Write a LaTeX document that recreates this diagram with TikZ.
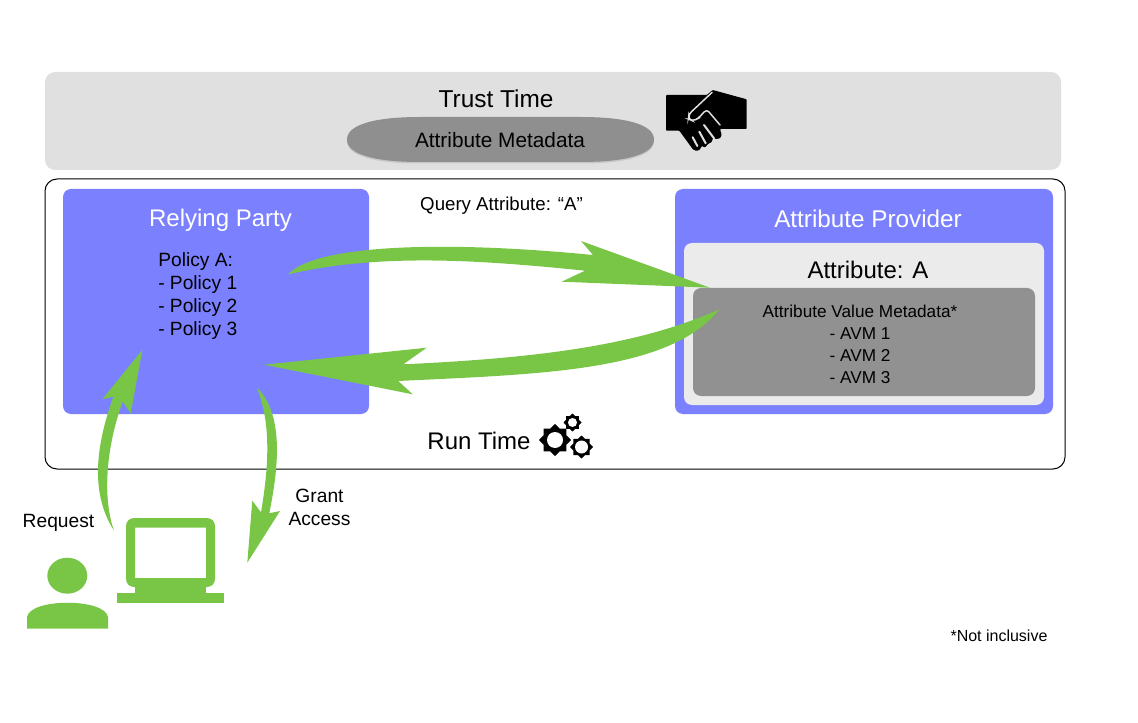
\documentclass[tikz,border=0pt]{standalone}
\usepackage{fontspec}
\setmainfont{Liberation Sans}
\usetikzlibrary{shapes.geometric}
\definecolor{trustgrey}{HTML}{E0E0E0}
\definecolor{pillgrey}{HTML}{8F8F8F}
\definecolor{pillshade}{HTML}{C8C8C8}
\definecolor{partyblue}{HTML}{7B80FF}
\definecolor{attrgrey}{HTML}{EBEBEB}
\definecolor{avmgrey}{HTML}{919191}
\definecolor{flowgreen}{HTML}{79C646}
\tikzset{
panel/.style n args={2}{rectangle,inner sep=0pt,outer sep=0pt,minimum width=#1*0.75pt,minimum height=#2*0.75pt},
bigtext/.style={font=\fontsize{18}{22}\selectfont},
medtext/.style={font=\fontsize{14.4}{17.25}\selectfont},
smalltext/.style={font=\fontsize{12}{16.5}\selectfont},
cog/.style={star,star points=8,star point ratio=1.3,fill=black,inner sep=0pt,minimum size=#1*0.75pt},
coghole/.style={circle,fill=white,inner sep=0pt,minimum size=#1*0.75pt}
}
\begin{document}
\begin{tikzpicture}[x=0.75pt,y=-0.75pt]
\useasboundingbox (0,0) rectangle (1138,723);
\node (trust) at (553,121) [panel={1016}{98},fill=trustgrey,rounded corners=7.5pt] {};
\node (runtime) at (555,324) [panel={1020}{290},draw=black,line width=0.75pt,rounded corners=9pt] {};
\node (relying) at (216,301.5) [panel={306}{225},fill=partyblue,rounded corners=6pt] {};
\node (provider) at (864,301.5) [panel={378}{225},fill=partyblue,rounded corners=6pt] {};
\node (attribute) at (864,324) [panel={360}{162},fill=attrgrey,rounded corners=6pt] {};
\node (avm) at (864,342) [panel={342}{108},fill=avmgrey,rounded corners=6pt] {};
\fill [pillshade] (347,141) .. controls (347,126) and (375,118.5) .. (420,118.5) -- (581,118.5) .. controls (626,118.5) and (654,126) .. (654,141) .. controls (654,156) and (626,163.5) .. (581,163.5) -- (420,163.5) .. controls (375,163.5) and (347,156) .. (347,141) -- cycle;
\fill [pillgrey] (347,139.5) .. controls (347,124.5) and (375,117) .. (420,117) -- (581,117) .. controls (626,117) and (654,124.5) .. (654,139.5) .. controls (654,154.5) and (626,162) .. (581,162) -- (420,162) .. controls (375,162) and (347,154.5) .. (347,139.5) -- cycle;

\node (trustlabel) at (496,98.5) [font=\fontsize{18.3}{22}\selectfont] {Trust Time};
\node (metalabel) at (500,140) [font=\fontsize{15.6}{19}\selectfont] {Attribute Metadata};
\node (rplabel) at (220.5,220) [bigtext,text=white] {Relying Party};
\node (aplabel) at (868,219) [font=\fontsize{18.2}{22}\selectfont,text=white] {Attribute Provider};
\node (attrlabel) at (868,270) [bigtext] {Attribute: A};
\node (policies) at (158,296.5) [medtext,anchor=west,inner sep=0pt,align=left] {Policy A:\\- Policy 1\\- Policy 2\\- Policy 3};
\node (avmlist) at (860,344) [font=\fontsize{12.9}{16.5}\selectfont,align=center] {Attribute Value Metadata*\\- AVM 1\\- AVM 2\\- AVM 3};
\node (query) at (501.5,206) [font=\fontsize{14}{17}\selectfont] {Query Attribute: “A”};
\node (runlabel) at (479,441) [bigtext] {Run Time};
\node (request) at (58.5,523) [medtext] {Request};
\node (grant) at (319.5,507) [medtext,align=center] {Grant\\Access};
\node (note) at (999,636) [smalltext] {*Not inclusive};

\node (cogbig) at (555,440) [cog=32] {};
\node (cogtop) at (572.5,422.5) [cog=18] {};
\node (cogright) at (581.5,447) [cog=23] {};
\node (holebig) at (555,440) [coghole=16] {};
\node (holetop) at (572.5,422.5) [coghole=9] {};
\node (holeright) at (581.5,447) [coghole=13] {};

\coordinate (querytail) at (288.3,274.3);
\coordinate (querytip) at (710,287.7);
\coordinate (valuetail) at (719.3,309.3);
\coordinate (valuetip) at (264,364.7);
\coordinate (requesttail) at (114,530.7);
\coordinate (requesttip) at (142.3,350);
\coordinate (granttail) at (256.7,387.3);
\coordinate (granttip) at (247.3,562.7);

\fill [flowgreen] (querytail) .. controls (315,245) and (440,240) .. (593,255) -- (581,241) -- (querytip) -- (561.7,281.7) -- (585,270.7) .. controls (480,260) and (380,253) .. (querytail) -- cycle;
\fill [flowgreen] (valuetail) .. controls (640,345) and (540,358) .. (403.3,364.3) -- (426.7,347.7) -- (valuetip) -- (412.7,394.3) -- (398.3,381) .. controls (540,374) and (670,372) .. (valuetail) -- cycle;
\fill [flowgreen] (requesttail) .. controls (88,490) and (98,440) .. (113.3,396.7) -- (102.3,399.3) -- (requesttip) -- (130.7,413.3) -- (122.7,401.7) .. controls (105,450) and (103,500) .. (requesttail) -- cycle;
\fill [flowgreen] (granttail) .. controls (285,415) and (278,470) .. (269.3,513.3) -- (280,511) -- (granttip) -- (252.3,500.7) -- (261,512.3) .. controls (270,460) and (270,420) .. (granttail) -- cycle;

\fill [flowgreen] (67.3,575.7) ellipse [x radius=20,y radius=18];
\fill [flowgreen] (27,628.7) -- (27,617) .. controls (30,598) and (105,598) .. (108,617) -- (108,628.7) -- cycle;
\fill [flowgreen,even odd rule,rounded corners=6pt] (126,518) rectangle (215,587) (135,527.7) [sharp corners] rectangle (206,578);
\fill [flowgreen] (135,585) rectangle (206,594);
\fill [flowgreen] (117,593) rectangle (224,603);

\fill [black,rounded corners=0.6pt] (666,95) -- (706.7,95) -- (712.7,90) -- (746.7,99.3) -- (746.7,129) -- (720,129) -- (721.7,135) -- (720,138.3) -- (716.5,139) -- (713,138) -- (711.7,142) -- (708,144) -- (705,147.5) -- (701.7,146) -- (700,149.5) -- (696.7,151) -- (693,149.5) -- (679.3,130.7) -- (666,130.7) -- cycle;
\draw [trustgrey,line width=1.1pt,line cap=round,rounded corners=2.5pt] (712,92.5) -- (689,114) -- (688.5,119) -- (693,121) -- (698,118.5) -- (706.7,109.3) -- (720,125);
\draw [trustgrey,line width=1.5pt,line cap=round] (704,125) -- (714,138.3);
\draw [trustgrey,line width=1.5pt,line cap=round] (699.3,131.7) -- (705.7,143.3);
\draw [trustgrey,line width=1.5pt,line cap=round] (692.7,137.3) -- (697.3,146);
\end{tikzpicture}
\end{document}
